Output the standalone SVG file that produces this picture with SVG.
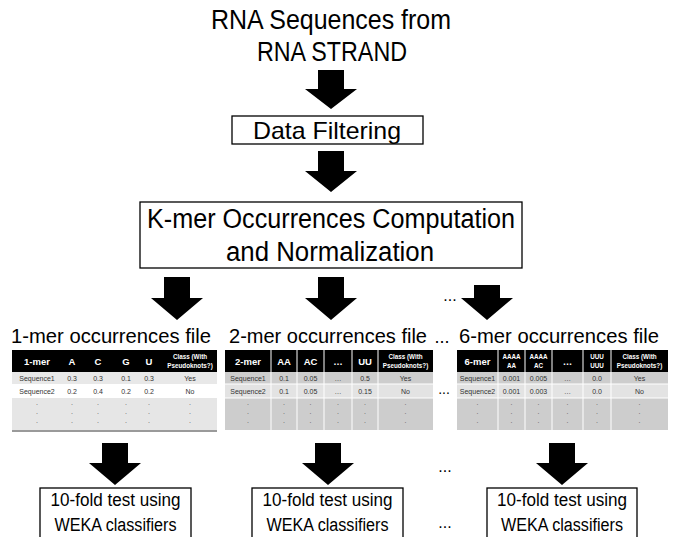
<svg xmlns="http://www.w3.org/2000/svg" width="675" height="537" viewBox="0 0 675 537">
<style>
.t{font-family:"Liberation Sans",Arial,sans-serif;fill:#000;text-anchor:middle}
.big{font-size:27px}
.mid{font-size:20px}
.sm{font-size:18px}
.box{fill:#fff;stroke:#000;stroke-width:1.3}
.arr{fill:#000}
.tb{font-family:"Liberation Sans",Arial,sans-serif;text-anchor:middle}
.hd{fill:#fff;font-weight:bold;font-size:9.5px}
.hs{fill:#fff;font-weight:bold;font-size:6.3px}
.cl{fill:#333;font-size:7px}
.dt{fill:#555;font-size:7px}
.sep{stroke:#fff;stroke-width:1}
</style>
<rect width="675" height="537" fill="#fff"/>

<g id="source">
<text class="t big" x="331" y="29" textLength="240" lengthAdjust="spacingAndGlyphs">RNA Sequences from</text>
<text class="t big" x="332" y="61" textLength="150" lengthAdjust="spacingAndGlyphs">RNA STRAND</text>
</g>

<g id="filtering">
<rect class="box" x="232" y="116" width="191" height="28"/>
<text class="t" style="font-size:24px" x="327" y="139" textLength="148" lengthAdjust="spacingAndGlyphs">Data Filtering</text>
</g>

<g id="kmer">
<rect class="box" x="140" y="202" width="382" height="66"/>
<text class="t big" x="331" y="228" textLength="368" lengthAdjust="spacingAndGlyphs">K-mer Occurrences Computation</text>
<text class="t big" x="330" y="261" textLength="208" lengthAdjust="spacingAndGlyphs">and Normalization</text>
</g>

<g id="connectors">
<polygon class="arr" points="318,70 344,70 344,89 357,89 331,109 305,89 318,89"/>
<polygon class="arr" points="318,151 344,151 344,171 357,171 331,192 305,171 318,171"/>
<polygon class="arr" points="164,277 190,277 190,298 203,298 177,320 151,298 164,298"/>
<polygon class="arr" points="318,277 344,277 344,298 357,298 331,320 305,298 318,298"/>
<polygon class="arr" points="474,285 500,285 500,298 513,298 487,320 461,298 474,298"/>
<polygon class="arr" points="102,443 128,443 128,463 141,463 115,485 89,463 102,463"/>
<polygon class="arr" points="315,443 341,443 341,463 354,463 328,485 302,463 315,463"/>
<polygon class="arr" points="549,443 575,443 575,463 588,463 562,485 536,463 549,463"/>
<text class="t" style="font-size:16px" x="450" y="301">...</text>
<text class="t" style="font-size:16px" x="445" y="472">...</text>
<text class="t" style="font-size:16px" x="445" y="528">...</text>
</g>

<g id="file1">
<text class="t mid" x="111" y="343" textLength="200" lengthAdjust="spacingAndGlyphs">1-mer occurrences file</text>
<rect x="12" y="350" width="205" height="22" fill="#000"/>
<rect x="12" y="372" width="205" height="12" fill="#e8e8e8"/>
<rect x="12" y="384" width="205" height="14" fill="#fff"/>
<rect x="12" y="398" width="205" height="32" fill="#e6e6e6"/>
<rect x="12" y="430" width="205" height="2" fill="#9a9a9a"/>
<g class="tb">
<text class="hd" x="37" y="365">1-mer</text><text class="hd" x="72" y="365">A</text><text class="hd" x="98" y="365">C</text><text class="hd" x="126" y="365">G</text><text class="hd" x="149" y="365">U</text>
<text class="hs" x="190" y="359">Class (With</text><text class="hs" x="190" y="368">Pseudoknots?)</text>
<text class="cl" x="37" y="381">Sequence1</text><text class="cl" x="72" y="381">0.3</text><text class="cl" x="98" y="381">0.3</text><text class="cl" x="126" y="381">0.1</text><text class="cl" x="149" y="381">0.3</text><text class="cl" x="190" y="381">Yes</text>
<text class="cl" x="37" y="394">Sequence2</text><text class="cl" x="72" y="394">0.2</text><text class="cl" x="98" y="394">0.4</text><text class="cl" x="126" y="394">0.2</text><text class="cl" x="149" y="394">0.2</text><text class="cl" x="190" y="394">No</text>
<text class="dt" x="37" y="405">.</text><text class="dt" x="72" y="405">.</text><text class="dt" x="98" y="405">.</text><text class="dt" x="126" y="405">.</text><text class="dt" x="149" y="405">.</text><text class="dt" x="190" y="405">.</text>
<text class="dt" x="37" y="414">.</text><text class="dt" x="72" y="414">.</text><text class="dt" x="98" y="414">.</text><text class="dt" x="126" y="414">.</text><text class="dt" x="149" y="414">.</text><text class="dt" x="190" y="414">.</text>
<text class="dt" x="37" y="423">.</text><text class="dt" x="72" y="423">.</text><text class="dt" x="98" y="423">.</text><text class="dt" x="126" y="423">.</text><text class="dt" x="149" y="423">.</text><text class="dt" x="190" y="423">.</text>
</g>
</g>

<g id="file2">
<text class="t mid" x="328" y="343" textLength="198" lengthAdjust="spacingAndGlyphs">2-mer occurrences file</text>
<rect x="225" y="350" width="208" height="22" fill="#000"/>
<rect x="225" y="372" width="208" height="12" fill="#cdcdcd"/>
<rect x="225" y="384" width="208" height="14" fill="#e3e3e3"/>
<rect x="225" y="398" width="208" height="32" fill="#cdcdcd"/>
<line class="sep" x1="271" y1="350" x2="271" y2="430"/><line class="sep" x1="297" y1="350" x2="297" y2="430"/><line class="sep" x1="324" y1="350" x2="324" y2="430"/><line class="sep" x1="352" y1="350" x2="352" y2="430"/><line class="sep" x1="378" y1="350" x2="378" y2="430"/>
<line class="sep" x1="225" y1="384" x2="433" y2="384"/><line class="sep" x1="225" y1="398" x2="433" y2="398"/>
<g class="tb">
<text class="hd" x="248" y="365">2-mer</text><text class="hd" x="284" y="365">AA</text><text class="hd" x="310.5" y="365">AC</text><text class="hd" x="338" y="365">…</text><text class="hd" x="365" y="365">UU</text>
<text class="hs" x="405.5" y="359">Class (With</text><text class="hs" x="405.5" y="368">Pseudoknots?)</text>
<text class="cl" x="248" y="381">Sequence1</text><text class="cl" x="284" y="381">0.1</text><text class="cl" x="310.5" y="381">0.05</text><text class="cl" x="338" y="381">…</text><text class="cl" x="365" y="381">0.5</text><text class="cl" x="405.5" y="381">Yes</text>
<text class="cl" x="248" y="394">Sequence2</text><text class="cl" x="284" y="394">0.1</text><text class="cl" x="310.5" y="394">0.05</text><text class="cl" x="338" y="394">…</text><text class="cl" x="365" y="394">0.15</text><text class="cl" x="405.5" y="394">No</text>
<text class="dt" x="248" y="405">.</text><text class="dt" x="284" y="405">.</text><text class="dt" x="310.5" y="405">.</text><text class="dt" x="338" y="405">.</text><text class="dt" x="365" y="405">.</text><text class="dt" x="405.5" y="405">.</text>
<text class="dt" x="248" y="414">.</text><text class="dt" x="284" y="414">.</text><text class="dt" x="310.5" y="414">.</text><text class="dt" x="338" y="414">.</text><text class="dt" x="365" y="414">.</text><text class="dt" x="405.5" y="414">.</text>
<text class="dt" x="248" y="423">.</text><text class="dt" x="284" y="423">.</text><text class="dt" x="310.5" y="423">.</text><text class="dt" x="338" y="423">.</text><text class="dt" x="365" y="423">.</text><text class="dt" x="405.5" y="423">.</text>
</g>
<text class="t" style="font-size:14px" x="444" y="394">...</text>
</g>

<text class="t" style="font-size:18px" x="442" y="343">...</text>

<g id="file6">
<text class="t mid" x="559" y="343" textLength="200" lengthAdjust="spacingAndGlyphs">6-mer occurrences file</text>
<rect x="457" y="350" width="211" height="22" fill="#000"/>
<rect x="457" y="372" width="211" height="12" fill="#cdcdcd"/>
<rect x="457" y="384" width="211" height="14" fill="#e3e3e3"/>
<rect x="457" y="398" width="211" height="32" fill="#cdcdcd"/>
<line class="sep" x1="498" y1="350" x2="498" y2="430"/><line class="sep" x1="525" y1="350" x2="525" y2="430"/><line class="sep" x1="552" y1="350" x2="552" y2="430"/><line class="sep" x1="583" y1="350" x2="583" y2="430"/><line class="sep" x1="611" y1="350" x2="611" y2="430"/>
<line class="sep" x1="457" y1="384" x2="668" y2="384"/><line class="sep" x1="457" y1="398" x2="668" y2="398"/>
<g class="tb">
<text class="hd" x="477.5" y="365">6-mer</text>
<text class="hs" x="511.5" y="359">AAAA</text><text class="hs" x="511.5" y="368">AA</text>
<text class="hs" x="538.5" y="359">AAAA</text><text class="hs" x="538.5" y="368">AC</text>
<text class="hd" x="567.5" y="365">…</text>
<text class="hs" x="597" y="359">UUU</text><text class="hs" x="597" y="368">UUU</text>
<text class="hs" x="639.5" y="359">Class (With</text><text class="hs" x="639.5" y="368">Pseudoknots?)</text>
<text class="cl" x="477.5" y="381">Sequence1</text><text class="cl" x="511.5" y="381">0.001</text><text class="cl" x="538.5" y="381">0.005</text><text class="cl" x="567.5" y="381">…</text><text class="cl" x="597" y="381">0.0</text><text class="cl" x="639.5" y="381">Yes</text>
<text class="cl" x="477.5" y="394">Sequence2</text><text class="cl" x="511.5" y="394">0.001</text><text class="cl" x="538.5" y="394">0.003</text><text class="cl" x="567.5" y="394">…</text><text class="cl" x="597" y="394">0.0</text><text class="cl" x="639.5" y="394">No</text>
<text class="dt" x="477.5" y="405">.</text><text class="dt" x="511.5" y="405">.</text><text class="dt" x="538.5" y="405">.</text><text class="dt" x="567.5" y="405">.</text><text class="dt" x="597" y="405">.</text><text class="dt" x="639.5" y="405">.</text>
<text class="dt" x="477.5" y="414">.</text><text class="dt" x="511.5" y="414">.</text><text class="dt" x="538.5" y="414">.</text><text class="dt" x="567.5" y="414">.</text><text class="dt" x="597" y="414">.</text><text class="dt" x="639.5" y="414">.</text>
<text class="dt" x="477.5" y="423">.</text><text class="dt" x="511.5" y="423">.</text><text class="dt" x="538.5" y="423">.</text><text class="dt" x="567.5" y="423">.</text><text class="dt" x="597" y="423">.</text><text class="dt" x="639.5" y="423">.</text>
</g>
</g>

<g id="weka1">
<rect class="box" x="40" y="488" width="151" height="60"/>
<text class="t sm" x="115.5" y="506" textLength="130" lengthAdjust="spacingAndGlyphs">10-fold test using</text>
<text class="t sm" x="115.5" y="531" textLength="122" lengthAdjust="spacingAndGlyphs">WEKA classifiers</text>
</g>
<g id="weka2">
<rect class="box" x="252" y="488" width="151" height="60"/>
<text class="t sm" x="327.5" y="506" textLength="130" lengthAdjust="spacingAndGlyphs">10-fold test using</text>
<text class="t sm" x="327.5" y="531" textLength="122" lengthAdjust="spacingAndGlyphs">WEKA classifiers</text>
</g>
<g id="weka3">
<rect class="box" x="487" y="488" width="150" height="60"/>
<text class="t sm" x="562" y="506" textLength="130" lengthAdjust="spacingAndGlyphs">10-fold test using</text>
<text class="t sm" x="562" y="531" textLength="122" lengthAdjust="spacingAndGlyphs">WEKA classifiers</text>
</g>
</svg>
